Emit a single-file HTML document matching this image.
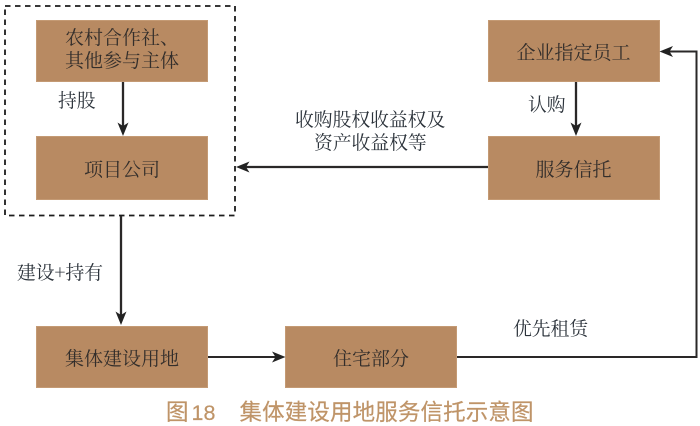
<!DOCTYPE html>
<html lang="zh">
<head>
<meta charset="utf-8">
<style>
html,body{margin:0;padding:0;background:#fff;width:700px;height:426px;overflow:hidden}
svg{display:block}
.t{font-family:"Noto Serif CJK SC","Liberation Serif",serif;font-size:19px;fill:#332e2b}
.l{font-family:"Noto Serif CJK SC","Liberation Serif",serif;font-size:18.800px;fill:#2c333b}
.c{font-family:"Liberation Sans","Noto Sans CJK SC",sans-serif;font-size:22.500px;fill:#bf9468;stroke:#bf9468;stroke-width:.2px}
</style>
</head>
<body>
<svg width="700" height="426" viewBox="0 0 700 426" xmlns="http://www.w3.org/2000/svg">
<!-- boxes -->
<g fill="#b88a62" stroke="#c49a74" stroke-width="1">
<rect x="36.500" y="20.500" width="171" height="61"/>
<rect x="36.500" y="136.500" width="171" height="63"/>
<rect x="488.500" y="20.500" width="171" height="61"/>
<rect x="488.500" y="136.500" width="171" height="63"/>
<rect x="36.500" y="326.500" width="171" height="61"/>
<rect x="285.500" y="326.500" width="171" height="61"/>
</g>
<!-- dashed group -->
<rect x="5" y="6" width="230" height="209.500" fill="none" stroke="#1c1c1c" stroke-width="1.800" stroke-dasharray="5.500 4.500"/>
<!-- connectors -->
<g fill="none" stroke="#2a2828" stroke-width="2.300">
<path d="M123 82V128"/>
<path d="M576 82V128"/>
<path d="M488 167H244"/>
<path d="M121 216V318"/>
</g>
<g fill="none" stroke="#2a2828" stroke-width="2">
<path d="M208 357H277"/>
<path d="M457 357H696.500V51.500H667"/>
</g>
<!-- arrowheads -->
<g fill="#222">
<path d="M123 136L117.500 122.500L123 126L128.500 122.500Z"/>
<path d="M576 136L570.500 122.500L576 126L581.500 122.500Z"/>
<path d="M121 325L115.500 311.500L121 315L126.500 311.500Z"/>
<path d="M236 167L249.500 161.500L246 167L249.500 172.500Z"/>
<path d="M285.500 357L272 351.500L275.500 357L272 362.500Z"/>
<path d="M659.500 51.500L673 46L669.500 51.500L673 57Z"/>
</g>
<!-- box text -->
<g text-anchor="middle">
<text class="t" x="122" y="44">农村合作社、</text>
<text class="t" x="122" y="67">其他参与主体</text>
<text class="t" x="122" y="176">项目公司</text>
<text class="t" x="573.500" y="59">企业指定员工</text>
<text class="t" x="573.500" y="176">服务信托</text>
<text class="t" x="122" y="365">集体建设用地</text>
<text class="t" x="371" y="365">住宅部分</text>
</g>
<!-- labels -->
<text class="l" x="58" y="107">持股</text>
<text class="l" x="528" y="111">认购</text>
<text class="l" x="295" y="126">收购股权收益权及</text>
<text class="l" x="314" y="149">资产收益权等</text>
<text class="l" x="17" y="279">建设+持有</text>
<text class="l" x="513" y="335">优先租赁</text>
<!-- caption -->
<text class="c" x="166" y="420">图</text>
<text class="c" x="191.500" y="420" style="font-size:21.500px">18</text>
<text class="c" x="239.500" y="420" textLength="294" lengthAdjust="spacing">集体建设用地服务信托示意图</text>
</svg>
</body>
</html>
